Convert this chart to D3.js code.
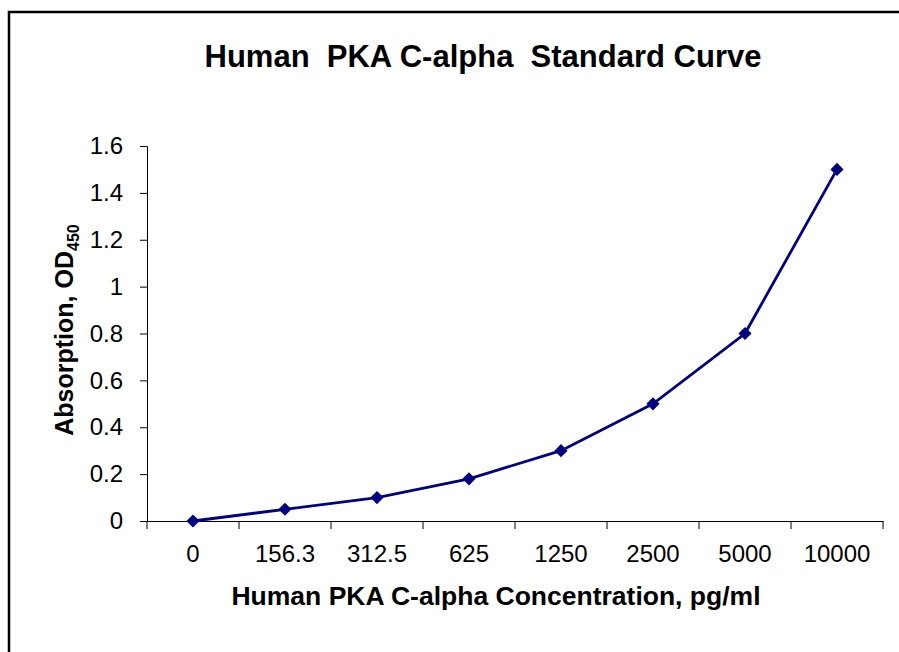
<!DOCTYPE html>
<html>
<head>
<meta charset="utf-8">
<script src="https://cdn.jsdelivr.net/npm/d3@7"></script>
<style>
  body { margin: 0; background: #fff; }
  svg { display: block; font-family: "Liberation Sans", Arial, sans-serif; }
</style>
</head>
<body>
<svg width="899" height="652"></svg>
<script>
var concentrations = ["0", "156.3", "312.5", "625", "1250", "2500", "5000", "10000"];
var absorbance = [0, 0.05, 0.1, 0.18, 0.3, 0.5, 0.8, 1.5];
var yTicks = [0, 0.2, 0.4, 0.6, 0.8, 1, 1.2, 1.4, 1.6];

var svg = d3.select("svg");
var lineColor = "#000080";

// frame (only top and left edges show in the picture)
svg.append("rect")
  .attr("x", 9).attr("y", 12)
  .attr("width", 1000).attr("height", 1000)
  .attr("fill", "none")
  .attr("stroke", "#000")
  .attr("stroke-width", 2.5);

var x = d3.scaleBand().domain(concentrations).range([147, 883]);
var y = d3.scaleLinear().domain([0, 1.6]).range([521, 146]);

svg.append("text")
  .attr("x", 483).attr("y", 67)
  .attr("text-anchor", "middle")
  .attr("font-size", 31).attr("font-weight", "bold")
  .style("white-space", "pre")
  .text("Human  PKA C-alpha  Standard Curve");

// y axis
var yAxis = svg.append("g")
  .attr("transform", "translate(147,0)")
  .call(d3.axisLeft(y).tickValues(yTicks).tickSize(7).tickPadding(17).tickFormat(d3.format("")));
yAxis.selectAll("text").attr("font-size", 24).attr("fill", "#000").attr("font-family", null);

// x axis
var xAxis = svg.append("g")
  .attr("transform", "translate(0,521)")
  .call(d3.axisBottom(x).tickSize(0).tickPadding(24));
xAxis.selectAll("text").attr("font-size", 24).attr("fill", "#000").attr("font-family", null);

// x tick marks sit on category boundaries
xAxis.selectAll(".bound")
  .data(concentrations.concat(["end"]))
  .enter().append("line")
  .attr("class", "bound")
  .attr("x1", function(d, i) { return x.range()[0] + i * x.step(); })
  .attr("x2", function(d, i) { return x.range()[0] + i * x.step(); })
  .attr("y1", 0).attr("y2", 8)
  .attr("stroke", "#000");

svg.selectAll(".domain").attr("stroke", "#000");

svg.append("text")
  .attr("x", 496).attr("y", 605)
  .attr("text-anchor", "middle")
  .attr("font-size", 26.5).attr("font-weight", "bold")
  .text("Human PKA C-alpha Concentration, pg/ml");

var yTitle = svg.append("text")
  .attr("transform", "translate(73,330) rotate(-90)")
  .attr("text-anchor", "middle")
  .attr("font-size", 25).attr("font-weight", "bold");
yTitle.append("tspan").text("Absorption, OD");
yTitle.append("tspan").attr("font-size", 16).attr("dy", 6).text("450");

var line = d3.line()
  .x(function(d, i) { return x(concentrations[i]) + x.bandwidth() / 2; })
  .y(function(d) { return y(d); });

svg.append("path")
  .datum(absorbance)
  .attr("d", line)
  .attr("fill", "none")
  .attr("stroke", lineColor)
  .attr("stroke-width", 2.8);

svg.selectAll(".pt")
  .data(absorbance)
  .enter().append("path")
  .attr("class", "pt")
  .attr("d", d3.symbol().type(d3.symbolDiamond2).size(110))
  .attr("transform", function(d, i) {
    return "translate(" + (x(concentrations[i]) + x.bandwidth() / 2) + "," + y(d) + ")";
  })
  .attr("fill", lineColor);
</script>
</body>
</html>
